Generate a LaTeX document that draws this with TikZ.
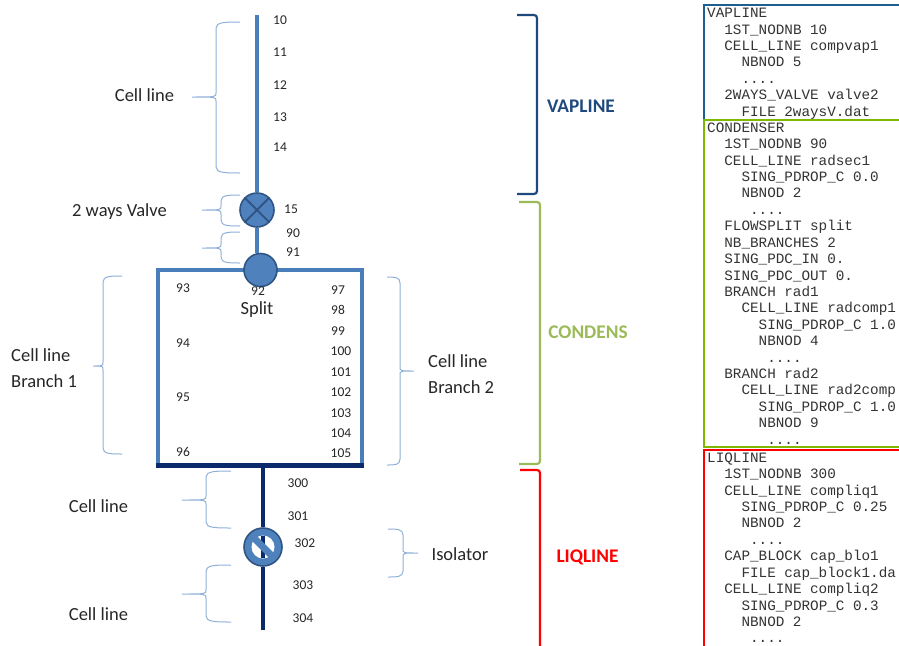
\documentclass[tikz,border=0pt]{standalone}
\usepackage{fontspec}
\setmainfont{Carlito}
\setmonofont{Liberation Mono}
\usetikzlibrary{positioning, calc}
\definecolor{pipeblue}{HTML}{4A7EBB}
\definecolor{pipenavy}{HTML}{0B2A6B}
\definecolor{symfill}{HTML}{4F81BD}
\definecolor{symborder}{HTML}{2F5585}
\definecolor{bracelight}{HTML}{8FB0D9}
\definecolor{vapcolor}{HTML}{1F497D}
\definecolor{condcolor}{HTML}{9BBB59}
\definecolor{liqcolor}{HTML}{FF0000}
\definecolor{vapframe}{HTML}{1F5F8F}
\definecolor{condframe}{HTML}{7FB800}
\definecolor{darktext}{HTML}{262626}
\definecolor{codetext}{HTML}{333333}
\tikzset{
  vappipe/.style={line width=4.6pt, draw=pipeblue},
  liqpipe/.style={line width=4.6pt, draw=pipenavy},
  symbol/.style={circle, draw=symborder, fill=symfill, line width=1.6pt, inner sep=0pt},
  branchbox/.style={rectangle, draw=pipeblue, line width=4.6pt, inner sep=0pt, outer sep=0pt,
                    minimum width=204pt, minimum height=195.5pt},
  bracestroke/.style={line width=1pt, draw=bracelight},
  section/.style={line width=2.2pt},
  labeltext/.style={font=\fontsize{18.5}{26}\selectfont, text=darktext, align=left, inner sep=0pt},
  nodnum/.style={font=\fontsize{13.5}{15}\selectfont, text=darktext, inner sep=0pt},
  secname/.style={font=\fontsize{19.3}{22}\selectfont\bfseries, inner sep=0pt},
  codebox/.style={rectangle, line width=2.4pt, anchor=north west, inner sep=0pt, inner ysep=3pt,
                  text width=220pt, align=left, text=codetext, fill=white, inner xsep=3pt,
                  font=\ttfamily\fontsize{14.3}{16.42}\selectfont,
                  execute at begin node={\spaceskip=8.58pt\xspaceskip=8.58pt\relax}},
}
% brace: tip x, spine x, end x, top y, tip y, bottom y
\newcommand{\curlybrace}[6]{%
  \draw[bracestroke] (#3,#4) .. controls ($(#2,#4)!0.4!(#3,#4)$) and (#2,#4) .. (#2,{#4+6})
    -- (#2,{#5-4}) .. controls (#2,#5) .. (#1,#5) .. controls (#2,#5) .. (#2,{#5+4})
    -- (#2,{#6-6}) .. controls (#2,#6) and ($(#2,#6)!0.4!(#3,#6)$) .. (#3,#6);}
% section bracket: colour, end x, spine x, top y, bottom y
\newcommand{\sectionbracket}[5]{%
  \draw[section, draw=#1, rounded corners=3pt] (#2,#4) -- (#3,#4) -- (#3,#5) -- (#2,#5);}

\begin{document}
\begin{tikzpicture}[x=1pt, y=-1pt]
\useasboundingbox (0,0) rectangle (899,645);
\clip (0,0) rectangle (899,645);

% Line layout
\coordinate (vaptop) at (257,15);
\coordinate (liqend) at (263,630);
\coordinate (liqtop) at (263,465);
\node[branchbox] (branches) at (260,367.75) {};
\node[symbol, minimum size=34pt] (valve) at (257,210) {};
\node[symbol, minimum size=33pt] (split) at (260.5,270) {};
\node[symbol, minimum size=38pt] (isolator) at (263,547) {};

\draw[vappipe] (vaptop) -- (valve);
\draw[vappipe] (valve.south) -- (valve.south |- split.north);
\draw[liqpipe, line cap=rect] (branches.south west) -- (branches.south east);
\draw[liqpipe] (liqtop) -- (isolator);
\draw[liqpipe] (isolator) -- (liqend);

% Symbols inside the circles
\draw[symborder, line width=1.8pt] (valve.north west) -- (valve.south east);
\draw[symborder, line width=1.8pt] (valve.north east) -- (valve.south west);
\fill[white] (isolator.center) circle (11.5);
\draw[pipenavy, line width=4.6pt] ($(isolator.center)+(0,-11)$) -- ($(isolator.center)+(0,11)$);
\draw[symfill, line width=7pt] ($(isolator.center)+(-10,-10)$) -- ($(isolator.center)+(10,10)$);

% Node numbers
\foreach \num/\xx/\yy in {10/280/20, 11/280/52, 12/280/85, 13/280/117, 14/280/147,
    15/291/209, 90/293/233, 91/293/252, 92/258/291, 93/183/288, 94/183/343,
    95/183/397, 96/183/452, 97/338/290, 98/338/310, 99/338/331, 100/341/351,
    101/341/372, 102/341/392, 103/341/413, 104/341/433, 105/341/453,
    300/298/483, 301/298/516, 302/305/543, 303/303/585, 304/303/618}
  \node[nodnum] (num\num) at (\xx,\yy) {\num};

% Labels
\node[labeltext] (celltop) at (144.5,95) {Cell line};
\node[labeltext] (valvelabel) at (119.5,212) {2 ways Valve};
\node[labeltext] (splitlabel) at (257,310) {Split};
\node[labeltext, anchor=west] (branch1) at (11,368) {Cell line\\Branch 1};
\node[labeltext, anchor=west] (branch2) at (428,374) {Cell line\\Branch 2};
\node[labeltext] (cellmid) at (98.5,506) {Cell line};
\node[labeltext] (celllow) at (98.5,614) {Cell line};
\node[labeltext] (isolabel) at (460,554) {Isolator};

% Braces
\curlybrace{192}{216}{240}{22}{97}{173}
\curlybrace{202}{221}{240}{195}{210}{226}
\curlybrace{202}{221}{240}{232}{248}{263}
\curlybrace{93}{103}{122}{276}{366}{454}
\curlybrace{414}{400}{387}{277}{371}{465}
\curlybrace{182}{206}{231}{471}{500}{528}
\curlybrace{182}{206}{231}{565}{594}{622}
\curlybrace{418}{403}{388}{529}{553}{577}

% Sections
\sectionbracket{vapcolor}{517}{537}{15}{194}
\sectionbracket{condcolor}{519}{540}{202}{464}
\sectionbracket{liqcolor}{520}{540}{470}{650}
\node[secname, text=vapcolor] (vapname) at (581,106) {VAPLINE};
\node[secname, text=condcolor] (condname) at (588,332) {CONDENS};
\node[secname, text=liqcolor] (liqname) at (587.5,557) {LIQLINE};

% Input decks
\node[codebox, draw=vapframe] (vapdeck) at (703,4) {%
VAPLINE\\
\ \ 1ST\_NODNB 10\\
\ \ CELL\_LINE compvap1\\
\ \ \ \ NBNOD 5\\
\ \ \ \ ....\\
\ \ 2WAYS\_VALVE valve2\\
\ \ \ \ FILE 2waysV.dat};
\node[codebox, draw=condframe] (conddeck) at (703,118.5) {%
CONDENSER\\
\ \ 1ST\_NODNB 90\\
\ \ CELL\_LINE radsec1\\
\ \ \ \ SING\_PDROP\_C 0.0\\
\ \ \ \ NBNOD 2\\
\ \ \ \ \ ....\\
\ \ FLOWSPLIT split\\
\ \ NB\_BRANCHES 2\\
\ \ SING\_PDC\_IN 0.\\
\ \ SING\_PDC\_OUT 0.\\
\ \ BRANCH rad1\\
\ \ \ \ CELL\_LINE radcomp1\\
\ \ \ \ \ \ SING\_PDROP\_C 1.0\\
\ \ \ \ \ \ NBNOD 4\\
\ \ \ \ \ \ \ ....\\
\ \ BRANCH rad2\\
\ \ \ \ CELL\_LINE rad2comp\\
\ \ \ \ \ \ SING\_PDROP\_C 1.0\\
\ \ \ \ \ \ NBNOD 9\\
\ \ \ \ \ \ \ ....};
\node[codebox, draw=liqcolor] (liqdeck) at (703,448.5) {%
LIQLINE\\
\ \ 1ST\_NODNB 300\\
\ \ CELL\_LINE compliq1\\
\ \ \ \ SING\_PDROP\_C 0.25\\
\ \ \ \ NBNOD 2\\
\ \ \ \ \ ....\\
\ \ CAP\_BLOCK cap\_blo1\\
\ \ \ \ FILE cap\_block1.da\\
\ \ CELL\_LINE compliq2\\
\ \ \ \ SING\_PDROP\_C 0.3\\
\ \ \ \ NBNOD 2\\
\ \ \ \ \ ....\\[12pt]\mbox{}};

\end{tikzpicture}
\end{document}
